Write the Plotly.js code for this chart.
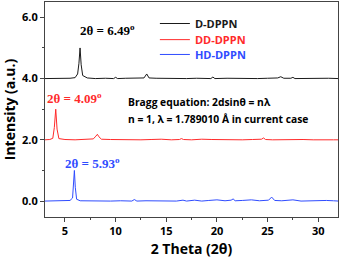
<!DOCTYPE html>
<html><head><meta charset="utf-8">
<script src="https://cdn.plot.ly/plotly-3.0.1.min.js"></script>
<style>html,body{margin:0;padding:0;background:#fff}#c{width:340px;height:258px}</style>
</head><body><div id="c"></div>
<script>
const seriesNames = ["D-DPPN", "DD-DPPN", "HD-DPPN"];
const colors = ["#1a1a1a", "#ff2a2a", "#2f4cff"];

const xD = [3.0,4.5,5.5,6.0,6.25,6.38,6.49,6.6,6.75,7.2,8.0,9.0,9.8,10.0,10.2,11.0,12.0,12.8,13.07,13.3,14.0,15.0,16.0,17.0,18.0,19.4,19.6,19.8,21.0,22.0,23.0,24.0,25.0,26.0,26.3,26.6,27.3,27.5,27.7,29.0,30.0,31.0,32.0];
const yD = [4.0,4.0,4.01,4.03,4.15,4.5,5.0,4.45,4.1,4.02,4.0,4.01,4.0,4.04,4.0,4.01,4.01,4.02,4.15,4.02,4.01,4.0,4.01,4.0,4.01,4.0,4.05,4.0,4.01,4.0,4.01,4.0,4.01,4.02,4.06,4.01,4.01,4.04,4.0,4.01,4.0,4.01,4.0];

const xDD = [3.0,3.5,3.8,3.95,4.09,4.22,4.4,5.0,6.0,7.0,7.8,8.05,8.2,8.35,8.6,9.5,10.5,11.5,12.5,13.5,14.5,15.5,16.3,16.5,16.7,17.5,18.5,19.5,20.5,21.5,22.5,23.5,24.4,24.6,24.8,25.5,26.5,27.5,28.5,29.5,30.5,31.5,32.0];
const yDD = [2.0,2.01,2.05,2.4,3.0,2.35,2.04,2.01,2.0,2.01,2.03,2.12,2.18,2.1,2.02,2.01,2.0,2.01,2.0,2.01,2.02,2.0,2.01,2.04,2.01,2.0,2.02,2.01,2.0,2.01,2.0,2.01,2.02,2.06,2.01,2.0,2.01,2.0,2.01,2.0,2.01,2.0,2.0];

const xHD = [3.0,4.0,5.0,5.5,5.75,5.85,5.93,6.02,6.15,6.5,7.5,8.5,9.5,10.5,11.6,11.85,12.1,13.0,14.0,15.0,16.0,16.65,17.0,17.8,18.5,19.2,20.0,20.8,21.4,21.6,21.8,22.5,23.4,24.2,25.1,25.4,25.7,26.4,27.5,28.3,29.0,30.0,30.8,31.5,32.0];
const yHD = [0.0,0.0,0.01,0.02,0.1,0.5,1.0,0.45,0.06,0.01,0.0,0.01,0.0,0.01,0.0,0.05,0.0,0.01,0.0,0.01,0.0,0.03,0.0,0.03,0.0,0.02,0.04,0.01,0.03,0.07,0.01,0.02,0.04,0.01,0.03,0.13,0.02,0.01,0.04,0.0,0.01,0.0,0.02,0.01,0.0];

const yTicks = [0, 2, 4, 6];
const yTickText = ["0.0", "2.0", "4.0", "6.0"];
const xTicks = [5, 10, 15, 20, 25, 30];

const legendIds = ["legend", "legend2", "legend3"];
const xs = [xD, xDD, xHD], ys = [yD, yDD, yHD];
const traces = xs.map((x, i) => ({
  x: x, y: ys[i], type: "scatter", mode: "lines", name: seriesNames[i],
  legend: legendIds[i],
  line: {color: colors[i], width: 1}
}));

const serif = "Liberation Serif, Times New Roman, serif";
const sans = "Open Sans, sans-serif";
function leg(i, ytop) {
  return {x: 0.375, y: ytop, xanchor: "left", yanchor: "middle", bgcolor: "rgba(0,0,0,0)",
    font: {family: sans, size: 11, color: colors[i], weight: 700}, itemwidth: 30};
}
const layout = {
  width: 340, height: 258,
  margin: {l: 45, r: 2, t: 2, b: 41},
  paper_bgcolor: "#fff", plot_bgcolor: "#fff",
  showlegend: true,
  legend: leg(0, 0.9),
  legend2: leg(1, 0.825),
  legend3: leg(2, 0.756),
  xaxis: {range: [3.03, 31.95], tickvals: xTicks, ticks: "outside", ticklen: 4, tickwidth: 1,
    tickcolor: "#444", showline: true, linecolor: "#444", linewidth: 1, mirror: true,
    showgrid: false, zeroline: false,
    minor: {dtick: 2.5, tick0: 0, ticks: "outside", ticklen: 2, tickcolor: "#444"},
    tickfont: {family: sans, size: 11, color: "#000", weight: 700},
    title: {text: "2 Theta (2θ)", font: {family: sans, size: 14, color: "#000", weight: 700}, standoff: 11}},
  yaxis: {range: [-0.52, 6.5], tickvals: yTicks, ticktext: yTickText, ticks: "outside", ticklen: 4, tickwidth: 1,
    tickcolor: "#444", showline: true, linecolor: "#444", linewidth: 1, mirror: true,
    showgrid: false, zeroline: false,
    minor: {dtick: 1, tick0: 0, ticks: "outside", ticklen: 2, tickcolor: "#444"},
    tickfont: {family: sans, size: 11, color: "#000", weight: 700},
    title: {text: "Intensity (a.u.)", font: {family: sans, size: 14, color: "#000", weight: 700}, standoff: 4}},
  annotations: [
    {x: 9.15, y: 5.6, xref: "x", yref: "y", text: "<b>2θ = 6.49<sup>o</sup></b>", showarrow: false,
     font: {family: serif, size: 13, color: "#000"}},
    {x: 5.9, y: 3.38, xref: "x", yref: "y", text: "<b>2θ = 4.09<sup>o</sup></b>", showarrow: false,
     font: {family: serif, size: 13, color: "#ff2a2a"}},
    {x: 7.72, y: 1.25, xref: "x", yref: "y", text: "<b>2θ = 5.93<sup>o</sup></b>", showarrow: false,
     font: {family: serif, size: 13, color: "#2f4cff"}},
    {x: 11.0, y: 3.23, xref: "x", yref: "y", xanchor: "left", text: "<b>Bragg equation: 2dsinθ = nλ</b>", showarrow: false,
     font: {family: sans, size: 10.3, color: "#000"}},
    {x: 11.0, y: 2.67, xref: "x", yref: "y", xanchor: "left", text: "<b>n = 1, λ = 1.789010 Å in current case</b>", showarrow: false,
     font: {family: sans, size: 10.3, color: "#000"}}
  ]
};
Plotly.newPlot("c", traces, layout, {displayModeBar: false, staticPlot: true});
</script></body></html>
